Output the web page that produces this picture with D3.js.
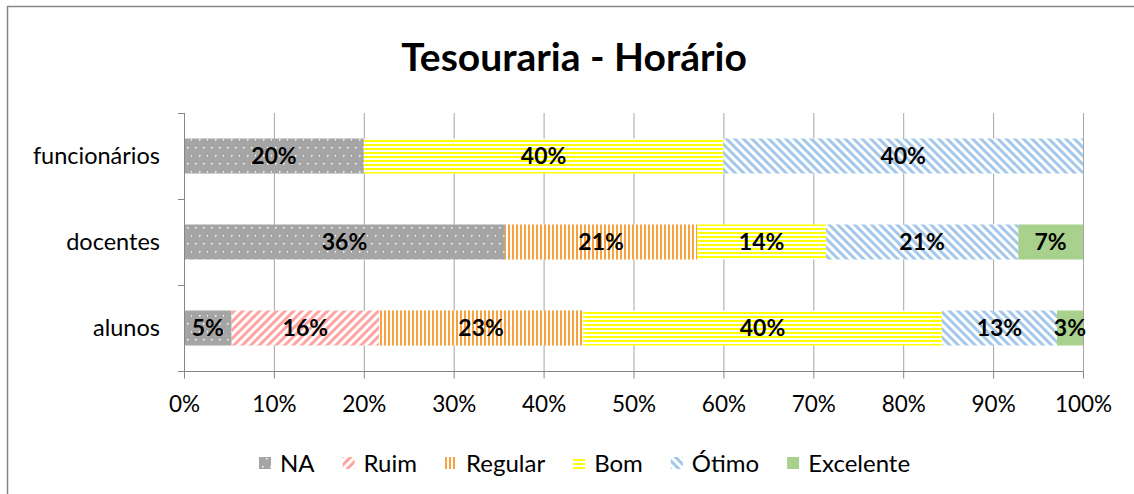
<!DOCTYPE html>
<html lang="pt">
<head>
  <meta charset="utf-8">
  <script src="https://cdn.jsdelivr.net/npm/d3@7"></script>
  <style>
    body{margin:0;background:#fff;}
    text{font-family:Lato,"Open Sans",sans-serif;}
  </style>
</head>
<body>
  <div id="chart"></div>
  <script>
    // data
    var categories=["funcionários","docentes","alunos"];
    var seriesNames=["NA","Ruim","Regular","Bom","Ótimo","Excelente"];
    var naValues=[20,35.7,5.3];
    var ruimValues=[0,0,16.4];
    var regularValues=[0,21.4,22.7];
    var bomValues=[40,14.3,39.9];
    var otimoValues=[40,21.4,12.8];
    var excelenteValues=[0,7.2,2.9];
    var xTicks=[0,10,20,30,40,50,60,70,80,90,100];

    var width=1134, height=494;

    var rows=categories.map(function(c,i){
      return {cat:c,NA:naValues[i],Ruim:ruimValues[i],Regular:regularValues[i],
              Bom:bomValues[i],"Ótimo":otimoValues[i],Excelente:excelenteValues[i]};
    });

    var svg=d3.select("#chart").append("svg")
      .attr("width",width)
      .attr("height",height);

    // patterns
    var defs=svg.append("defs");

    var pNA=defs.append("pattern").attr("id","pNA").attr("patternUnits","userSpaceOnUse")
      .attr("width",16).attr("height",16);
    pNA.append("rect").attr("width",16).attr("height",16).attr("fill","#a5a5a5");
    [[3,3],[11,3],[7,11],[15,11]].forEach(function(p){
      pNA.append("rect").attr("x",p[0]).attr("y",p[1]).attr("width",1.5).attr("height",1.5).attr("fill","#fff");
    });

    var pRuim=defs.append("pattern").attr("id","pRuim").attr("patternUnits","userSpaceOnUse")
      .attr("width",6).attr("height",6).attr("patternTransform","rotate(45)");
    pRuim.append("rect").attr("width",6).attr("height",6).attr("fill","#fff");
    pRuim.append("rect").attr("width",3).attr("height",6).attr("fill","#ffa3a3");

    var pReg=defs.append("pattern").attr("id","pReg").attr("patternUnits","userSpaceOnUse")
      .attr("width",4).attr("height",4);
    pReg.append("rect").attr("width",4).attr("height",4).attr("fill","#fff");
    pReg.append("rect").attr("width",2).attr("height",4).attr("fill","#f9a13f");

    var pBom=defs.append("pattern").attr("id","pBom").attr("patternUnits","userSpaceOnUse")
      .attr("width",4).attr("height",4);
    pBom.append("rect").attr("width",4).attr("height",4).attr("fill","#fff");
    pBom.append("rect").attr("width",4).attr("height",2).attr("fill","#ffff00");

    var pOt=defs.append("pattern").attr("id","pOt").attr("patternUnits","userSpaceOnUse")
      .attr("width",6).attr("height",6).attr("patternTransform","rotate(-45)");
    pOt.append("rect").attr("width",6).attr("height",6).attr("fill","#fff");
    pOt.append("rect").attr("width",3).attr("height",6).attr("fill","#a4c8e9");

    var fills={"NA":"url(#pNA)","Ruim":"url(#pRuim)","Regular":"url(#pReg)",
               "Bom":"url(#pBom)","Ótimo":"url(#pOt)","Excelente":"#a9d18e"};

    // frame
    svg.append("rect")
      .attr("x",7.5).attr("y",6.5)
      .attr("width",1140).attr("height",500)
      .attr("fill","none").attr("stroke","#868686").attr("stroke-width",1.5);

    // title
    svg.append("text")
      .attr("x",574).attr("y",71)
      .attr("text-anchor","middle")
      .style("font-size","39px").style("font-weight","bold")
      .attr("fill","#000")
      .text("Tesouraria - Horário");

    var x=d3.scaleLinear().domain([0,100]).range([184,1083]);
    var y=d3.scaleBand().domain(categories).range([113,371])
      .paddingInner(0.593).paddingOuter(0.2965);
    var yBand=d3.scaleBand().domain(categories).range([113,371]);

    // gridlines
    svg.append("g").selectAll("line")
      .data(xTicks.slice(1))
      .enter().append("line")
      .attr("x1",function(d){return x(d)+0.5;})
      .attr("x2",function(d){return x(d)+0.5;})
      .attr("y1",113).attr("y2",371)
      .attr("stroke","#a6a6a6").attr("stroke-width",1);

    // bars
    var stack=d3.stack().keys(seriesNames)(rows);
    var groups=svg.append("g").selectAll("g")
      .data(stack).enter().append("g")
      .attr("fill",function(d){return fills[d.key];});

    groups.selectAll("rect")
      .data(function(d){return d.filter(function(s){return s[1]-s[0]>0;});})
      .enter().append("rect")
      .attr("x",function(d){return x(d[0]);})
      .attr("width",function(d){return x(d[1])-x(d[0]);})
      .attr("y",function(d){return y(d.data.cat);})
      .attr("height",y.bandwidth());

    // data labels
    groups.selectAll("text")
      .data(function(d){return d.filter(function(s){return s[1]-s[0]>0;});})
      .enter().append("text")
      .attr("x",function(d){return (x(d[0])+x(d[1]))/2;})
      .attr("y",function(d){return y(d.data.cat)+y.bandwidth()/2;})
      .attr("dy","0.36em")
      .attr("text-anchor","middle")
      .attr("fill","#000")
      .style("font-size","23px").style("font-weight","bold")
      .text(function(d){return Math.round(d[1]-d[0])+"%";});

    // y axis
    var yAxis=svg.append("g").attr("stroke","#868686").attr("stroke-width",1);
    yAxis.append("line").attr("x1",184.5).attr("x2",184.5).attr("y1",113).attr("y2",371);
    var bounds=categories.map(function(c){return yBand(c);}).concat([371]);
    yAxis.selectAll(".tk").data(bounds).enter().append("line")
      .attr("x1",178).attr("x2",184.5)
      .attr("y1",function(d){return Math.round(d)+0.5;})
      .attr("y2",function(d){return Math.round(d)+0.5;});

    svg.append("g").selectAll("text")
      .data(categories).enter().append("text")
      .attr("x",160)
      .attr("y",function(d){return yBand(d)+yBand.bandwidth()/2;})
      .attr("dy","0.36em")
      .attr("text-anchor","end")
      .attr("fill","#000")
      .style("font-size","23.5px")
      .text(function(d){return d;});

    // x axis
    var xAxis=svg.append("g")
      .attr("transform","translate(0,371.5)")
      .call(d3.axisBottom(x).tickValues(xTicks)
        .tickFormat(function(d){return d+"%";})
        .tickSize(7).tickPadding(18).tickSizeOuter(0));
    xAxis.select(".domain").attr("d","M178,0H1083.5").attr("stroke","#868686");
    xAxis.selectAll(".tick line").attr("stroke","#868686");
    xAxis.selectAll(".tick text")
      .attr("fill","#000")
      .style("font-size","22.5px")
      .style("font-family","Lato, sans-serif");

    // legend
    var legend=svg.append("g").attr("transform","translate(259,463)");
    var lx=0;
    seriesNames.forEach(function(s){
      var g=legend.append("g").attr("transform","translate("+lx+",0)");
      g.append("rect").attr("x",0).attr("y",-6).attr("width",12).attr("height",12)
        .attr("fill",fills[s]);
      var t=g.append("text").attr("x",21).attr("dy","0.36em")
        .attr("fill","#000")
        .style("font-size","24px")
        .text(s);
      lx+=21+t.node().getComputedTextLength()+28;
    });
  </script>
</body>
</html>
